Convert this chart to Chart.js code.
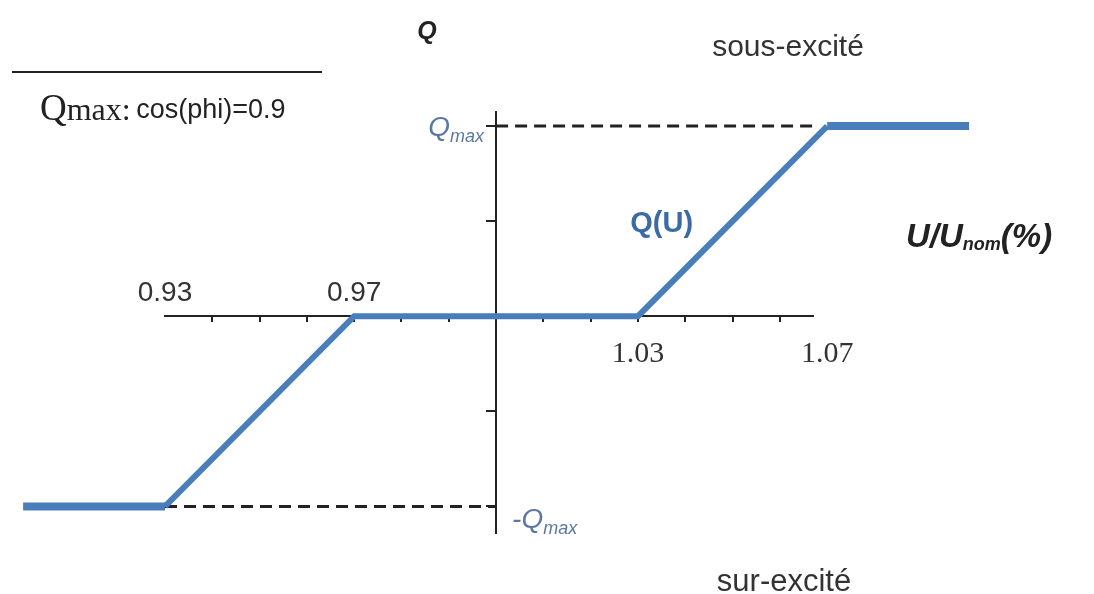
<!DOCTYPE html>
<html>
<head>
<meta charset="utf-8">
<script src="https://cdn.jsdelivr.net/npm/chart.js@4"></script>
<style>
  html, body { margin: 0; padding: 0; background: #fff; }
  #wrap { width: 1094px; height: 594px; }
</style>
</head>
<body>
<div id="wrap"><canvas id="qu" width="1094" height="594"></canvas></div>
<script>
// Q(U) characteristic
const uValues = [0.90, 0.93, 0.97, 1.03, 1.07, 1.10];
const qValues = [-1, -1, 0, 0, 1, 1];
const qmaxGuideU = [1.00, 1.07];
const qmaxGuideQ = [1, 1];
const qminGuideU = [0.93, 1.00];
const qminGuideQ = [-1, -1];
const xTickValues = [0.94, 0.95, 0.96, 0.97, 0.98, 0.99, 1.00, 1.01, 1.02, 1.03, 1.04, 1.05, 1.06];
const yTickValues = [-1, -0.5, 0, 0.5, 1];
const labelsAbove = ['0.93', '0.97'];
const labelsAboveAt = [0.93, 0.97];
const labelsBelow = ['1.03', '1.07'];
const labelsBelowAt = [1.03, 1.07];

const blue = '#4a7ebb';
const axisColor = '#222';

function pts(xs, ys) {
    return xs.map((v, i) => ({ x: v, y: ys[i] }));
}

// text with subscript, drawn left to right from x
function subText(ctx, x, y, parts) {
    let cx = x;
    parts.forEach(p => {
        ctx.font = p.font;
        ctx.fillText(p.t, cx, y + (p.dy || 0));
        cx += ctx.measureText(p.t).width;
    });
    return cx;
}
function subWidth(ctx, parts) {
    let w = 0;
    parts.forEach(p => { ctx.font = p.font; w += ctx.measureText(p.t).width; });
    return w;
}

const textPlugin = {
    id: 'qutext',
    afterDraw(chart) {
        const { ctx, scales: { x, y } } = chart;
        const x0 = x.getPixelForValue(1.0);
        const y0 = y.getPixelForValue(0);
        ctx.save();
        ctx.textBaseline = 'alphabetic';

        // axis numbers
        ctx.fillStyle = '#333';
        ctx.textAlign = 'center';
        ctx.font = '28px "Liberation Sans", Arial, sans-serif';
        labelsAbove.forEach((t, i) => ctx.fillText(t, x.getPixelForValue(labelsAboveAt[i]), y0 - 15));
        ctx.font = '30px "Liberation Serif", "Times New Roman", serif';
        labelsBelow.forEach((t, i) => ctx.fillText(t, x.getPixelForValue(labelsBelowAt[i]), y0 + 46));

        // Q axis title
        ctx.fillStyle = '#222';
        ctx.font = 'italic bold 25px "Liberation Sans", Arial, sans-serif';
        ctx.fillText('Q', x0 - 69, 39);

        // U axis title
        ctx.textAlign = 'left';
        const bi = 'italic bold 33px "Liberation Sans", Arial, sans-serif';
        const bis = 'italic bold 18px "Liberation Sans", Arial, sans-serif';
        subText(ctx, 906, 247, [
            { t: 'U/U', font: bi },
            { t: 'nom', font: bis, dy: 3 },
            { t: '(%)', font: bi }
        ]);

        // Qmax labels
        ctx.fillStyle = '#5a78a4';
        const it = 'italic 28px "Liberation Sans", Arial, sans-serif';
        const its = 'italic 18px "Liberation Sans", Arial, sans-serif';
        const qmaxParts = [{ t: 'Q', font: it }, { t: 'max', font: its, dy: 6 }];
        const w = subWidth(ctx, qmaxParts);
        subText(ctx, x0 - 12 - w, y.getPixelForValue(1) + 10, qmaxParts);
        subText(ctx, x0 + 16, y.getPixelForValue(-1) + 22, [{ t: '-', font: it }].concat(qmaxParts));

        // Q(U) curve label
        ctx.fillStyle = '#3b6ba7';
        ctx.textAlign = 'center';
        ctx.font = 'bold 29px "Liberation Sans", Arial, sans-serif';
        ctx.fillText('Q(U)', x.getPixelForValue(1.035), y.getPixelForValue(0.5) + 11);

        // regime labels
        ctx.fillStyle = '#333';
        ctx.font = '30px "Liberation Sans", Arial, sans-serif';
        ctx.fillText('sous-excité', 788, 56);
        ctx.font = '31px "Liberation Sans", Arial, sans-serif';
        ctx.fillText('sur-excité', 784, 591);

        // caption top left
        ctx.strokeStyle = '#222';
        ctx.lineWidth = 2;
        ctx.beginPath();
        ctx.moveTo(12, 72);
        ctx.lineTo(322, 72);
        ctx.stroke();
        ctx.textAlign = 'left';
        ctx.fillStyle = '#222';
        const cx = subText(ctx, 40, 120, [
            { t: 'Q', font: '37px "Liberation Serif", "Times New Roman", serif' },
            { t: 'max:', font: '32px "Liberation Serif", "Times New Roman", serif' }
        ]);
        ctx.font = '27px "Liberation Sans", Arial, sans-serif';
        ctx.fillText(' cos(phi)=0.9', cx - 2, 118);
        ctx.restore();
    }
};

new Chart(document.getElementById('qu'), {
    type: 'line',
    data: {
        datasets: [{
            label: 'Q(U)',
            data: pts(uValues, qValues),
            borderColor: blue,
            borderWidth: 6,
            pointRadius: 0,
            clip: false,
            segment: {
                borderWidth: c => (c.p0DataIndex === 0 || c.p0DataIndex === uValues.length - 2) ? 8 : 6
            }
        }, {
            label: 'Qmax',
            data: pts(qmaxGuideU, qmaxGuideQ),
            borderColor: axisColor,
            borderWidth: 3,
            borderDash: [12, 7],
            pointRadius: 0
        }, {
            label: '-Qmax',
            data: pts(qminGuideU, qminGuideQ),
            borderColor: axisColor,
            borderWidth: 3,
            borderDash: [12, 7],
            pointRadius: 0
        }]
    },
    options: {
        responsive: false,
        animation: false,
        layout: { padding: { left: 165, right: 281, top: 112, bottom: 61 } },
        plugins: {
            legend: { display: false },
            tooltip: { enabled: false }
        },
        scales: {
            x: {
                type: 'linear',
                bounds: 'data',
                // range set here (not min/max) so the line keeps its points past the axis ends
                afterDataLimits: s => { s.min = 0.93; s.max = 1.067; },
                position: { y: 0 },
                afterBuildTicks: s => { s.ticks = xTickValues.map(v => ({ value: v })); },
                afterFit: s => { s.height = 0; },
                ticks: { display: false },
                grid: { drawOnChartArea: false, drawTicks: true, tickLength: 5, color: axisColor, lineWidth: 2 },
                border: { display: true, color: axisColor, width: 2 }
            },
            y: {
                type: 'linear',
                min: -1.14,
                max: 1.074,
                position: { x: 1.0 },
                afterBuildTicks: s => { s.ticks = yTickValues.map(v => ({ value: v })); },
                afterFit: s => { s.width = 0; },
                ticks: { display: false },
                grid: { drawOnChartArea: false, drawTicks: true, tickLength: 9, color: axisColor, lineWidth: 2 },
                border: { display: true, color: axisColor, width: 2 }
            }
        }
    },
    plugins: [textPlugin]
});
</script>
</body>
</html>
